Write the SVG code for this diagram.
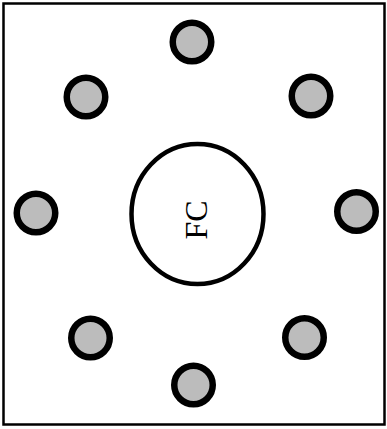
<svg xmlns="http://www.w3.org/2000/svg" width="387" height="429" viewBox="0 0 387 429">
<style>
.frame{fill:#fff;stroke:#000;stroke-width:2.5}
.sat{fill:#bcbcbc;stroke:#000;stroke-width:6.5}
.fc{fill:none;stroke:#000;stroke-width:4.5}
.lbl{font-family:"Liberation Serif",serif;font-size:32px;fill:#000}
</style>
<rect class="frame" x="3.5" y="3.5" width="381" height="421"/>
<g id="fc">
<ellipse class="fc" cx="197.5" cy="214" rx="66" ry="70"/>
<text class="lbl" transform="translate(207,220) rotate(-90)" text-anchor="middle">FC</text>
</g>
<g id="n-top"><circle class="sat" cx="192" cy="42" r="19.25"/></g>
<g id="n-ul"><circle class="sat" cx="86" cy="97" r="19.25"/></g>
<g id="n-ur"><circle class="sat" cx="311" cy="96" r="19.25"/></g>
<g id="n-l"><circle class="sat" cx="36" cy="213" r="19.25"/></g>
<g id="n-r"><circle class="sat" cx="356.5" cy="211.5" r="19.25"/></g>
<g id="n-ll"><circle class="sat" cx="90.5" cy="338" r="19.25"/></g>
<g id="n-lr"><circle class="sat" cx="304.5" cy="337.5" r="19.25"/></g>
<g id="n-b"><circle class="sat" cx="193.5" cy="385" r="19.25"/></g>
<g id="connectors"></g>
</svg>
